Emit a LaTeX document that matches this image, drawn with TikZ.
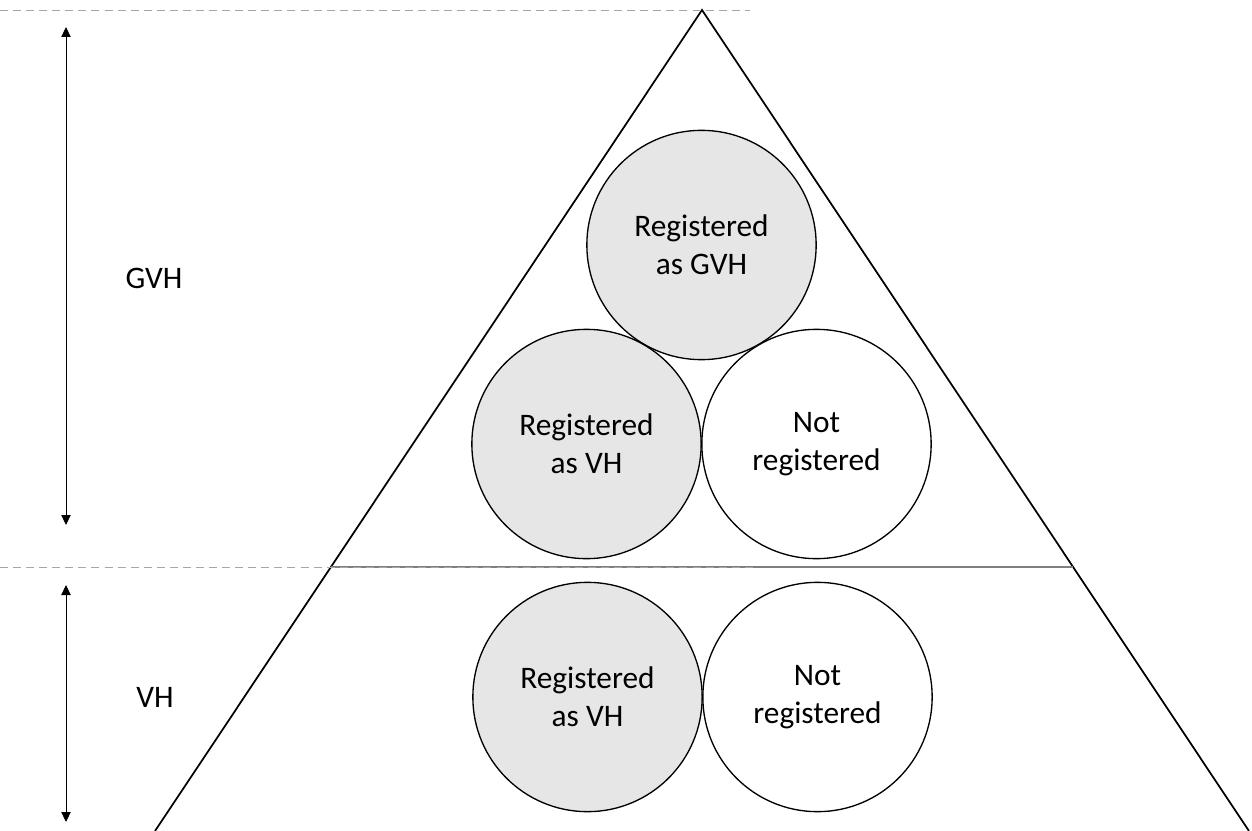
\documentclass[tikz,border=0pt]{standalone}
\usepackage{fontspec}
\setmainfont{Carlito}
\usetikzlibrary{arrows.meta}

\definecolor{regfill}{HTML}{E7E6E6}
\definecolor{guidegray}{HTML}{A6A6A6}
\definecolor{divgray}{HTML}{7F7F7F}

\begin{document}
\begin{tikzpicture}[x=0.75pt, y=-0.75pt,
  group/.style={draw, circle, line width=1pt, minimum size=172pt, inner sep=0pt, align=center, font=\fontsize{23.5}{28.5}\selectfont},
  reg/.style={group, fill=regfill},
  notreg/.style={group, fill=white},
  guide/.style={guidegray, line width=0.7pt, dash pattern=on 6pt off 3.8pt},
  rangearrow/.style={{Triangle[width=7pt,length=7.5pt]}-{Triangle[width=7pt,length=7.5pt]}, line width=0.65pt},
  levelname/.style={font=\fontsize{23.5}{28}\selectfont}]
\useasboundingbox (0,0) rectangle (1252,831);

% Dreieck
\coordinate (apex) at (702,10);
\coordinate (baseL) at (155,831);
\coordinate (baseR) at (1249,831);
\draw[line width=1.3pt] (baseL) -- (apex) -- (baseR);

% Trennlinie im Dreieck
\coordinate (divL) at (331,567);
\coordinate (divR) at (1073,567);
\draw[divgray, line width=0.9pt] (divL) -- (divR);

% gestrichelte Hilfslinien
\coordinate (topA) at (0,10);
\coordinate (topB) at (750,10);
\coordinate (midA) at (0,567);
\coordinate (midB) at (755,567);
\draw[guide] (topA) -- (topB);
\draw[guide] (midA) -- (midB);

% Pfeile links
\coordinate (gvhTop) at (66,27);
\coordinate (gvhBot) at (66,525);
\coordinate (vhTop) at (66,585);
\coordinate (vhBot) at (66,822);
\draw[rangearrow] (gvhTop) -- (gvhBot);
\draw[rangearrow] (vhTop) -- (vhBot);

% Ebenen
\node[levelname] (gvh) at (154,278) {GVH};
\node[levelname] (vh) at (155,697) {VH};

% Kreise GVH
\node[reg] (regGVH) at (701.5,245) {Registered\\as GVH};
\node[reg] (regVH1) at (586.5,444) {Registered\\as VH};
\node[notreg] (notReg1) at (816.5,444) {Not\\registered};

% Kreise VH
\node[reg] (regVH2) at (587.5,697) {Registered\\as VH};
\node[notreg] (notReg2) at (817.5,697) {Not\\registered};
\end{tikzpicture}
\end{document}
